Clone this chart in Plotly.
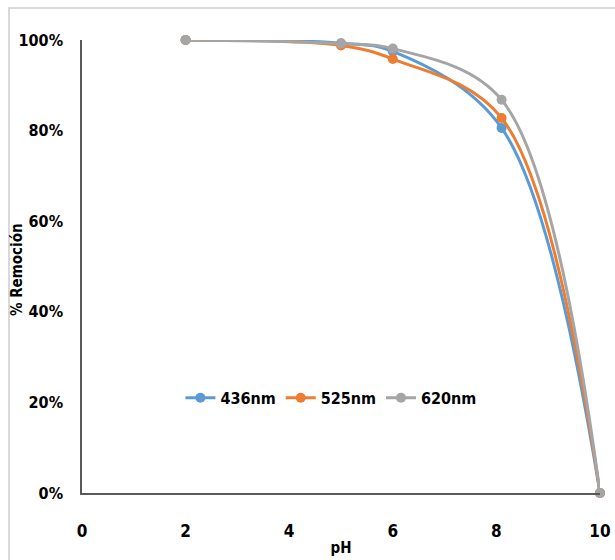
import plotly.graph_objects as go

ph = [2, 5, 6, 8.1, 10]
s436 = [1.0, 0.993, 0.975, 0.806, 0.0]
s525 = [1.0, 0.988, 0.958, 0.828, 0.0]
s620 = [1.0, 0.992, 0.981, 0.868, 0.0]
names = ["436nm", "525nm", "620nm"]
colors = ["#5b9bd5", "#ed7d31", "#a5a5a5"]
xticks = [0, 2, 4, 6, 8, 10]
yticks = [0, 0.2, 0.4, 0.6, 0.8, 1.0]
ytitle = "% Remoción"

FONT = "DejaVu Sans Condensed, Liberation Sans Narrow, Arial Narrow, sans-serif"

fig = go.Figure()
for name, vals, col in zip(names, [s436, s525, s620], colors):
    fig.add_trace(go.Scatter(
        x=ph, y=vals, name=name, mode="lines+markers", cliponaxis=False,
        line=dict(color=col, width=3, shape="spline", smoothing=1.0),
        marker=dict(color=col, size=10),
    ))

L, R, T, B = 82, 15, 40, 67
W, H = 615, 560
pw, ph_ = W - L - R, H - T - B

fig.update_layout(
    width=W, height=H,
    margin=dict(l=L, r=R, t=T, b=B, autoexpand=False),
    paper_bgcolor="white", plot_bgcolor="white",
    font=dict(family=FONT, size=16, color="black"),
    showlegend=True,
    legend=dict(orientation="h", x=0.19, y=0.21, xanchor="left", yanchor="middle",
                font=dict(family=FONT, size=16, color="black", weight="bold"),
                bgcolor="rgba(0,0,0,0)", itemwidth=30, tracegroupgap=0),
    xaxis=dict(range=[0, 10], tickvals=xticks, ticktext=[str(v) for v in xticks],
               showgrid=False, zeroline=False, showline=True, linecolor="#595959", linewidth=1.5,
               ticks="", ticklabelstandoff=22, automargin=False,
               tickfont=dict(family=FONT, size=17, color="black", weight="bold"),
               title=dict(text="pH", font=dict(family=FONT, size=15, color="black", weight="bold"), standoff=2)),
    yaxis=dict(range=[0, 1.0], tickvals=yticks, tickformat=".0%",
               showgrid=False, zeroline=False, showline=True, linecolor="#595959", linewidth=1.5,
               ticks="", ticklabelstandoff=14, automargin=False,
               tickfont=dict(family=FONT, size=16, color="black", weight="bold")),
)

fig.add_annotation(text=ytitle, xref="paper", yref="paper",
                   x=(17 - L) / pw, y=(H - B - 270) / ph_, textangle=-90,
                   showarrow=False, xanchor="center", yanchor="middle",
                   font=dict(family=FONT, size=15, color="black", weight="bold"))

fig.add_shape(type="rect", xref="paper", yref="paper",
              x0=(9 - L) / pw, x1=(W + 20 - L) / pw,
              y0=-(H + 20 - T - ph_) / ph_, y1=1 + (T - 8) / ph_,
              line=dict(color="#d9d9d9", width=2), layer="below")

fig.write_html("out.html")
